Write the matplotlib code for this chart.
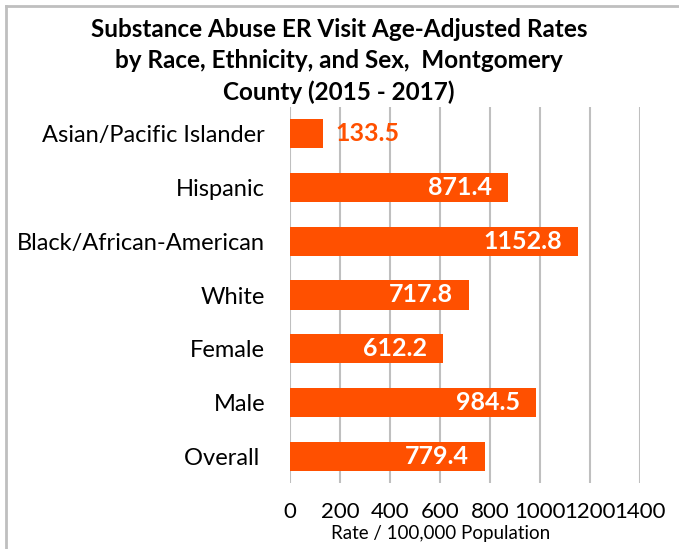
import matplotlib
matplotlib.use("Agg")
import matplotlib.pyplot as plt
from matplotlib.lines import Line2D

categories = ["Asian/Pacific Islander", "Hispanic", "Black/African-American",
              "White", "Female", "Male", "Overall "]
values = [133.5, 871.4, 1152.8, 717.8, 612.2, 984.5, 779.4]
xticks = [0, 200, 400, 600, 800, 1000, 1200, 1400]
title = "Substance Abuse ER Visit Age-Adjusted Rates\nby Race, Ethnicity, and Sex,  Montgomery\nCounty (2015 - 2017)"
xlabel = "Rate / 100,000 Population"

plt.rcParams['font.family'] = ['Lato', 'DejaVu Sans']
color = "#FF5000"

fig = plt.figure(figsize=(6.79, 5.49), dpi=100)
W, H = 679, 549
ax = fig.add_axes([290 / W, 1 - 483 / H, 350 / W, 376 / H])

y = list(range(len(categories)))
bars = ax.barh(y, values, height=0.54, color=color, zorder=3)
ax.set_ylim(len(categories) - 0.5, -0.5)
ax.set_xlim(0, 1400)
ax.set_xticks(xticks)
ax.set_xticklabels([str(t) for t in xticks], fontsize=16)
ax.set_yticks(y)
ax.set_yticklabels(categories, fontsize=17)
ax.tick_params(axis='y', length=0, pad=18)
ax.tick_params(axis='x', length=0, pad=14)
ax.grid(axis='x', color='#BFBFBF', linewidth=1.5, zorder=0)
for s in ax.spines.values():
    s.set_visible(False)
ax.set_xlabel(xlabel, fontsize=13.5)
ax.xaxis.set_label_coords((441 - 290) / 350, (483 - 533) / 376)
ax.xaxis.label.set_va('center')

for i, (b, v) in enumerate(zip(bars, values)):
    if v < 300:
        ax.text(v + 48, b.get_y() + b.get_height() / 2, f"{v:.1f}", color=color,
                fontsize=18, fontweight='bold', va='center', ha='left', zorder=4)
    else:
        ax.text(v - 65, b.get_y() + b.get_height() / 2, f"{v:.1f}", color='white',
                fontsize=18, fontweight='bold', va='center', ha='right', zorder=4)

fig.text(339 / W, 1 - 61 / H, title, ha='center', va='center', fontsize=17.5,
         fontweight='bold', linespacing=1.4)

fig.add_artist(Line2D([5.5 / W, 1], [1 - 5.5 / H] * 2, color='#BFBFBF', lw=2,
                      transform=fig.transFigure))
fig.add_artist(Line2D([5.5 / W] * 2, [0, 1 - 5.5 / H], color='#BFBFBF', lw=2,
                      transform=fig.transFigure))

fig.savefig("out.png", dpi=100)
